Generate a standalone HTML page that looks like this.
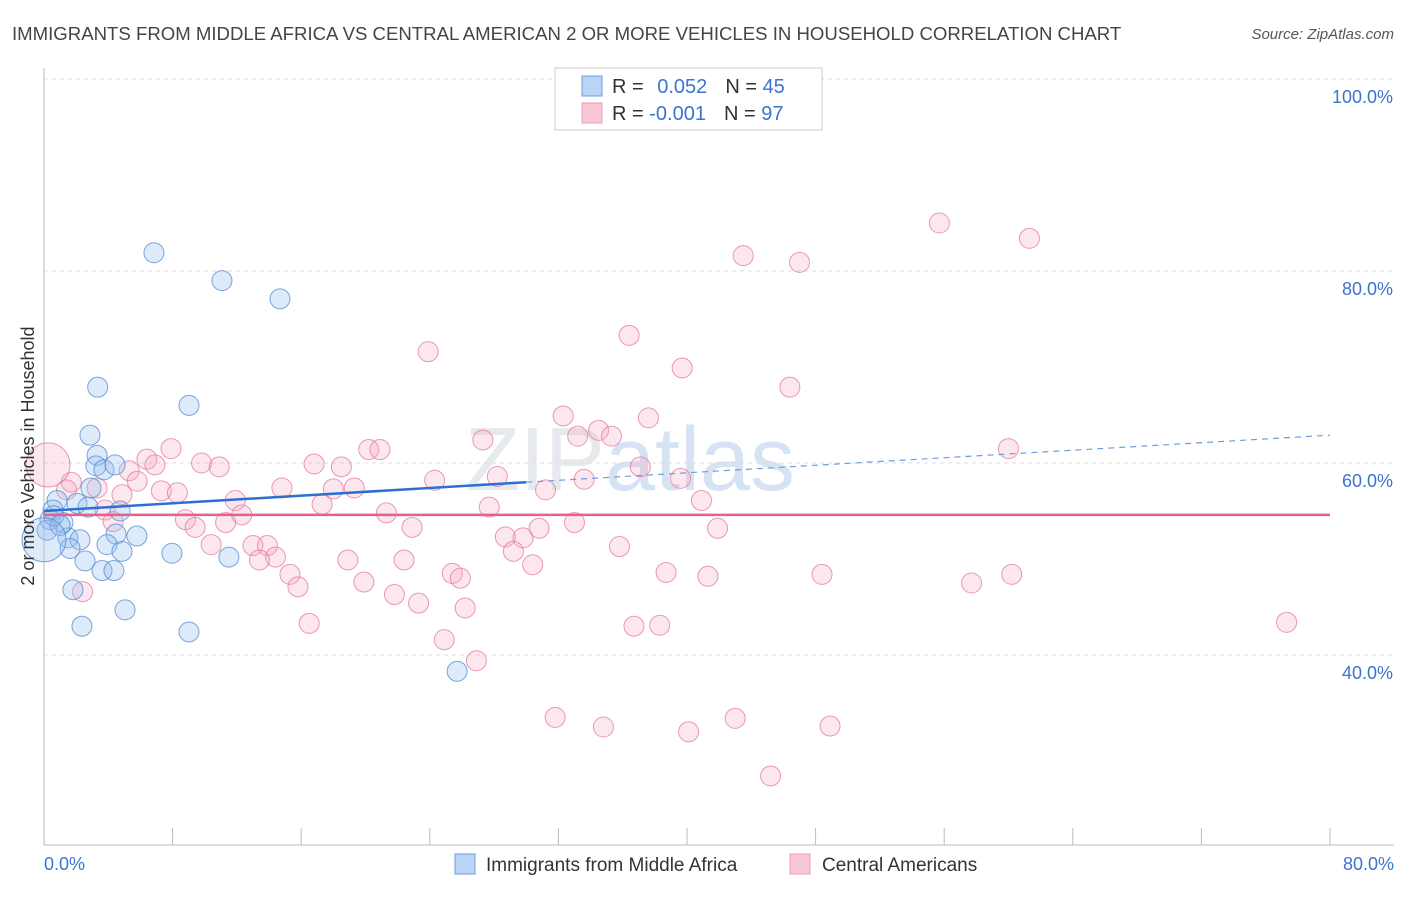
<!DOCTYPE html>
<html><head><meta charset="utf-8"><style>
body{margin:0;background:#fff;font-family:"Liberation Sans",sans-serif;}
svg text{font-family:"Liberation Sans",sans-serif;}
</style></head><body>
<svg id="chart" width="1406" height="892" xmlns="http://www.w3.org/2000/svg">
<text x="12" y="40" font-size="18.6" fill="#444">IMMIGRANTS FROM MIDDLE AFRICA VS CENTRAL AMERICAN 2 OR MORE VEHICLES IN HOUSEHOLD CORRELATION CHART</text>
<text x="1394" y="39" font-size="15" fill="#555" font-style="italic" text-anchor="end">Source: ZipAtlas.com</text>
<text x="630" y="490" font-size="90" fill="#e6eaee" font-family="Liberation Serif" text-anchor="middle">ZIP<tspan fill="#d6e3f3" font-family="Liberation Sans">atlas</tspan></text>
<g id="grid"></g><g id="axes"></g><g id="pts"></g><g id="lines"></g>
<text transform="translate(34,456) rotate(-90)" font-size="18" fill="#333" text-anchor="middle">2 or more Vehicles in Household</text>
<g>
<rect x="555" y="68" width="267" height="62" fill="#fff" stroke="#ccc"/>
<rect x="582" y="76" width="20" height="20" fill="#b9d4f5" stroke="#6d9ee0"/>
<rect x="582" y="103" width="20" height="20" fill="#f9c8d6" stroke="#ec9ab4"/>
<text x="612" y="93" font-size="20" fill="#333">R = <tspan fill="#3b74d0" dx="8">0.052</tspan><tspan dx="18" fill="#333">N = </tspan><tspan fill="#3b74d0">45</tspan></text>
<text x="612" y="120" font-size="20" fill="#333">R = <tspan fill="#3b74d0">-0.001</tspan><tspan dx="18" fill="#333">N = </tspan><tspan fill="#3b74d0">97</tspan></text>
</g>
<g>
<rect x="455" y="854" width="20" height="20" fill="#b9d4f5" stroke="#6d9ee0"/>
<text x="486" y="871" font-size="19" fill="#333">Immigrants from Middle Africa</text>
<rect x="790" y="854" width="20" height="20" fill="#f9c8d6" stroke="#ec9ab4"/>
<text x="822" y="871" font-size="19" fill="#333">Central Americans</text>
</g>
</svg>
<script>
const yTicks=[100,80,60,40];
const xTickLabels=["0.0%","80.0%"];
const blueX=[6.84,11.07,14.68,3.34,9.02,2.86,3.30,3.23,3.73,4.42,2.92,0.81,2.05,2.74,4.73,0.56,0.37,1.18,0.19,4.48,5.78,1.49,2.24,1.62,3.92,4.85,7.96,11.5,2.55,3.61,4.35,1.80,5.04,2.36,9.02,25.7,0.6,1.0];
const blueY=[81.9,79.0,77.1,67.9,66.0,62.9,60.8,59.7,59.3,59.8,57.4,56.1,55.8,55.4,55.0,55.1,54.1,53.8,53.0,52.6,52.4,52.2,52.0,51.1,51.5,50.8,50.6,50.2,49.8,48.8,48.8,46.8,44.7,43.0,42.4,38.3,54.5,53.5];
const pinkX=[55.7,61.3,43.5,47.0,36.4,23.9,39.7,46.4,32.3,37.6,34.5,33.2,35.3,27.3,60.0,20.2,20.9,7.9,6.4,6.9,9.8,10.9,16.8,18.5,37.1,5.3,28.2,33.6,39.6,24.3,5.8,3.3,14.8,19.3,7.3,8.3,18.0,31.2,4.85,11.9,40.9,17.3,27.7,3.8,21.3,12.3,8.8,11.3,4.3,33.0,9.4,22.9,41.9,30.8,28.7,29.8,10.4,13.0,13.9,35.8,29.2,14.4,13.4,18.9,22.4,30.4,15.3,25.4,38.7,41.3,48.4,60.2,25.9,15.8,19.9,57.7,21.8,2.4,23.3,26.2,16.5,36.7,38.3,77.3,24.9,26.9,31.8,34.8,43.0,48.9,40.1,45.2,1.7,1.4];
const pinkY=[85.0,83.4,81.6,80.9,73.3,71.6,69.9,67.9,64.9,64.7,63.4,62.8,62.8,62.4,61.5,61.4,61.4,61.5,60.4,59.8,60.0,59.6,59.9,59.6,59.6,59.2,58.6,58.3,58.4,58.2,58.1,57.4,57.4,57.4,57.1,56.9,57.3,57.2,56.7,56.1,56.1,55.7,55.4,55.1,54.8,54.6,54.1,53.8,53.9,53.8,53.3,53.3,53.2,53.2,52.3,52.2,51.5,51.4,51.4,51.3,50.8,50.2,49.9,49.9,49.9,49.4,48.4,48.5,48.6,48.2,48.4,48.4,48.0,47.1,47.6,47.5,46.3,46.6,45.4,44.9,43.3,43.0,43.1,43.4,41.6,39.4,33.5,32.5,33.4,32.6,32.0,27.4,58.0,57.2];
const blueTrend=[[0,55.0],[30,58.0],[80,62.9]];
const pinkTrend=[[0,54.6],[80,54.6]];
const NS="http://www.w3.org/2000/svg";
const X=v=>44+v/80*1286, Y=v=>79+(100-v)*9.6;
function mk(t,a,p){const e=document.createElementNS(NS,t);for(const k in a)e.setAttribute(k,a[k]);p.appendChild(e);return e;}
const grid=document.getElementById('grid'),axes=document.getElementById('axes'),pts=document.getElementById('pts'),lines=document.getElementById('lines');
yTicks.forEach(t=>{const l=mk('line',{x1:44,x2:1394,y1:Y(t),y2:Y(t),stroke:'#ddd','stroke-dasharray':'4,4'},grid);

const tx=mk('text',{x:1393,y:Y(t)+24,'font-size':18,fill:'#3b74d0','text-anchor':'end'},grid);tx.textContent=t.toFixed(1)+'%';
});
let a=mk('line',{x1:44,x2:44,y1:68,y2:845,stroke:'#bbb'},axes);
a=mk('line',{x1:44,x2:1394,y1:845,y2:845,stroke:'#bbb'},axes);
for(let i=0;i<=10;i++){const t=mk('line',{x1:X(i*8),x2:X(i*8),y1:828,y2:845,stroke:'#bbb'},axes);}
[[0,'start',44],[80,'end',1394]].forEach((d,i)=>{const t=mk('text',{x:d[2],y:870,'font-size':18,fill:'#3b74d0','text-anchor':d[1]},axes);t.textContent=xTickLabels[i];});
function dots(xs,ys,fill,stroke,name,big){xs.forEach((x,i)=>{const c=mk('circle',{cx:X(x),cy:Y(ys[i]),r:10,fill:fill,stroke:stroke,'stroke-width':1},pts);
});
const c=mk('circle',{cx:X(big[0]),cy:Y(big[1]),r:big[2],fill:fill,stroke:stroke,'stroke-width':1},pts);}
dots(pinkX,pinkY,'rgba(244,170,194,0.28)','rgba(228,120,155,0.75)','pink-point',[0.25,59.8,22]);
dots(blueX,blueY,'rgba(150,190,240,0.32)','rgba(80,135,210,0.75)','blue-point',[0,52,22]);
let l=mk('line',{x1:X(blueTrend[0][0]),y1:Y(blueTrend[0][1]),x2:X(blueTrend[1][0]),y2:Y(blueTrend[1][1]),stroke:'#2d6fd2','stroke-width':2.5},lines);

l=mk('line',{x1:X(blueTrend[1][0]),y1:Y(blueTrend[1][1]),x2:X(blueTrend[2][0]),y2:Y(blueTrend[2][1]),stroke:'#6d9ee0','stroke-width':1.2,'stroke-dasharray':'6,5'},lines);

l=mk('line',{x1:X(pinkTrend[0][0]),y1:Y(pinkTrend[0][1]),x2:X(pinkTrend[1][0]),y2:Y(pinkTrend[1][1]),stroke:'#e5618a','stroke-width':2.5},lines);

</script>
</body></html>
